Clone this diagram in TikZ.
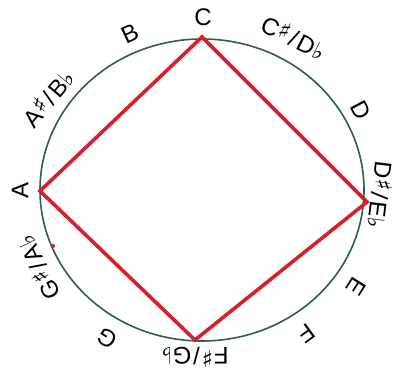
\documentclass[tikz,border=0pt]{standalone}
\usepackage{fontspec}
\setmainfont{Liberation Sans}
\newfontfamily\symfont{DejaVu Sans}
\usepackage{tikz}
\usetikzlibrary{positioning,calc}

\definecolor{ringgreen}{RGB}{45,95,75}
\definecolor{shapered}{RGB}{214,32,42}

\newcommand{\sh}{\hspace{1pt}{\symfont\fontsize{23}{23}\selectfont\raisebox{0.25ex}{♯}}\hspace{2pt}}
\newcommand{\fl}{\hspace{0.5pt}{\symfont\fontsize{23}{23}\selectfont♭}}
\newcommand{\sep}{/\hspace{2pt}}

\begin{document}
\begin{tikzpicture}[x=1pt, y=1pt,
  note/.style={font=\fontsize{24}{24}\selectfont, inner sep=0pt, anchor=center},
  ring/.style={draw=ringgreen, line width=1.6pt},
  poly/.style={draw=shapered, line width=3.6pt, line join=miter}]

  \useasboundingbox (0,0) rectangle (396,381);

  % the chromatic circle
  \coordinate (mid) at (202,191);
  \draw[ring] (mid) ellipse [x radius=162, y radius=151];

  % note names, turned along the circle
  \node[note, rotate=0]    (nC)  at (203,364) {C};
  \node[note, rotate=-27]  (nCs) at (294,344) {C\sh\sep D\fl};
  \node[note, rotate=-62]  (nD)  at (361,271) {D};
  \node[note, rotate=-97]  (nDs) at (381,186) {D\sh\sep E\fl};
  \node[note, rotate=-122] (nE)  at (356,94)  {E};
  \node[note, rotate=-144] (nF)  at (306,48)  {F};
  \node[note, rotate=180]  (nFs) at (195,24)  {F\sh\sep G\fl};
  \node[note, rotate=147]  (nG)  at (107,43)  {G};
  \node[note, rotate=116]  (nGs) at (38,113)  {G\sh\sep A\fl};
  \node[note, rotate=90]   (nA)  at (20,191)  {A};
  \node[note, rotate=50]   (nAs) at (48,283)  {A\sh\sep B\fl};
  \node[note, rotate=25]   (nB)  at (130,347) {B};

  % corners of the square on the circle
  \coordinate (vC)  at (202,344);
  \coordinate (vDs) at (367,179);
  \coordinate (vFs) at (195,41);
  \coordinate (vA)  at (40,190);

  \draw[poly] (vC) -- (vDs) -- (vFs) -- (vA) -- cycle;

  % small red mark on the ring
  \node[circle, fill=shapered, inner sep=0pt, minimum size=4pt] (dot) at (53,135) {};
\end{tikzpicture}
\end{document}
